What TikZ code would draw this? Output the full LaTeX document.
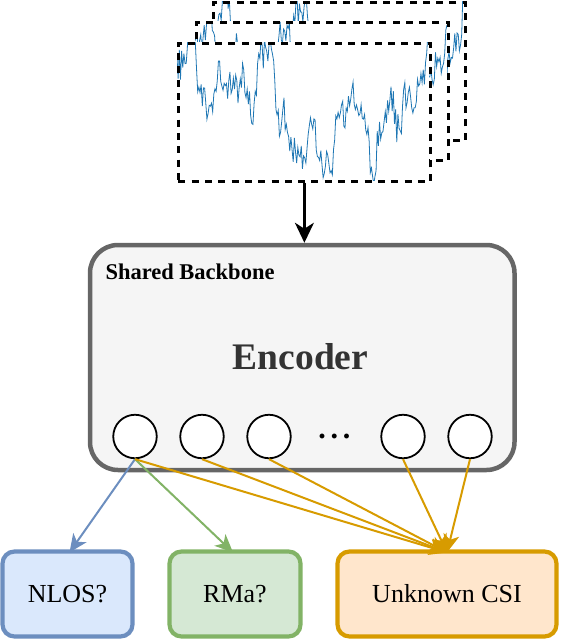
\documentclass[tikz,border=0pt]{standalone}
\usepackage{fontspec}
\setmainfont{Liberation Serif}
\usetikzlibrary{arrows.meta}
\definecolor{sig}{HTML}{1F77B4}
\definecolor{encfill}{HTML}{F5F5F5}
\definecolor{encdraw}{HTML}{666666}
\definecolor{enctext}{HTML}{333333}
\definecolor{bfill}{HTML}{DAE8FC}
\definecolor{bdraw}{HTML}{6C8EBF}
\definecolor{gfill}{HTML}{D5E8D4}
\definecolor{gdraw}{HTML}{82B366}
\definecolor{ofill}{HTML}{FFE6CC}
\definecolor{odraw}{HTML}{D79B00}
\tikzset{
  frame/.style={draw=black, line width=2.8pt, dash pattern=on 7pt off 6.3pt},
  enc/.style={draw=encdraw, fill=encfill, line width=4.5pt, rounded corners=28pt,
    minimum width=424.5pt, minimum height=225pt, inner sep=0pt, rectangle},
  unit/.style={circle, draw=black, fill=white, line width=1.8pt, minimum size=43.5pt, inner sep=0pt},
  outbox/.style={rectangle, rounded corners=12pt, line width=4.2pt, minimum height=85pt,
    inner sep=0pt, font=\fontsize{26}{30}\selectfont},
  sigline/.style={sig, line width=0.8pt},
  mainarrow/.style={line width=2.2pt, -{Stealth[length=20pt,width=19pt,inset=6pt]}},
  thinarrow/.style={line width=2pt, -{Stealth[length=18pt,width=16pt,inset=5pt]}},
}
% #1 = x of top-left, #2 = y of top-left, #3 = seed, #4 = name
\newcommand\mysignalframe[4]{%
  \fill[white] (#1,#2) rectangle ++(252,138);
  \begin{scope}
    \clip (#1,#2) rectangle ++(252,138);
    \pgfmathsetseed{#3}
    \draw[sigline] plot[variable=\t, domain=0:252, samples=220]
      ({#1+\t}, {#2+66 - 34*sin(1.6*\t+20) - 24*sin(4.3*\t+70) - 20*sin(8.7*\t+10) - 14*sin(15*\t+200) - 10*sin(27*\t+50) - 16*rand});
  \end{scope}
  \node[frame, minimum width=252pt, minimum height=138pt, inner sep=0pt, rectangle, anchor=north west] (#4) at (#1,#2) {};
}
\begin{document}
\begin{tikzpicture}[x=1pt, y=-1pt]
\useasboundingbox (0,0) rectangle (560,640);
\begin{scope}
\clip (0,0) rectangle (560,640);
\mysignalframe{212}{1}{11}{f3}
\mysignalframe{195}{21}{22}{f2}
\mysignalframe{177}{42}{33}{f1}
\end{scope}

\node[enc] (enc) at (302.25,357.5) {};
\node[anchor=base west, font=\fontsize{22.5}{24}\selectfont\bfseries] (sb) at (102,279) {Shared Backbone};
\node[font=\fontsize{37.5}{40}\selectfont\bfseries, text=enctext] (encl) at (300.5,357) {Encoder};

\node[unit] (c1) at (135,436.5) {};
\node[unit] (c2) at (202,436.5) {};
\node[unit] (c3) at (269,436.5) {};
\node[anchor=base, inner sep=0pt, font=\fontsize{30}{30}\selectfont\bfseries] (dots) at (334.3,438) {.\kern4.8pt.\kern4.8pt.};
\node[unit] (c4) at (403,436.5) {};
\node[unit] (c5) at (470,436.5) {};

\node[outbox, draw=bdraw, fill=bfill, minimum width=130pt] (nlos) at (67.5,594) {NLOS?};
\node[outbox, draw=gdraw, fill=gfill, minimum width=131pt] (rma) at (235,594) {RMa?};
\node[outbox, draw=odraw, fill=ofill, minimum width=219pt] (csi) at (447,594) {Unknown CSI};

\draw[mainarrow] (f1.south) -- (f1.south |- enc.north);

\draw[thinarrow, bdraw] (c1.south) -- ([xshift=2pt,yshift=-3pt]nlos.north);
\draw[thinarrow, gdraw] (c1.south) -- ([xshift=-2pt,yshift=-3pt]rma.north);
\foreach \c in {c1,c2,c3,c4,c5}
  \draw[thinarrow, odraw] (\c.south) -- ([yshift=-3pt]csi.north);
\end{tikzpicture}
\end{document}
